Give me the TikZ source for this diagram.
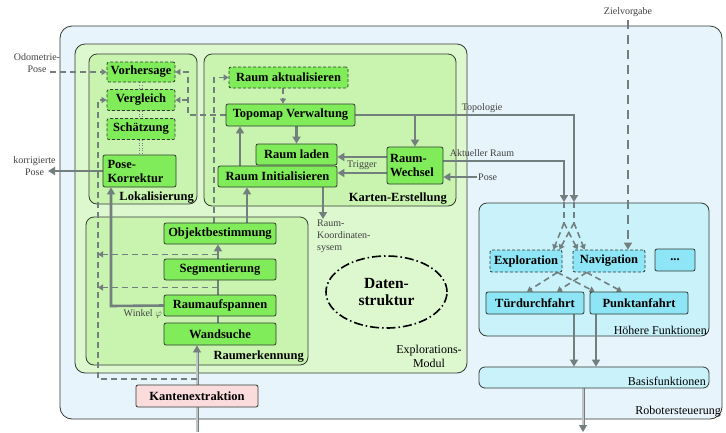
\documentclass[tikz,border=0pt]{standalone}
\usepackage{fontspec}
\setmainfont{Liberation Serif}
\usetikzlibrary{arrows.meta,shapes.geometric,calc}
\definecolor{outerfill}{HTML}{E7F4FC}
\definecolor{modfill}{HTML}{DDF7CF}
\definecolor{innerfill}{HTML}{C9F4B0}
\definecolor{ngreen}{HTML}{80EC5A}
\definecolor{hfill}{HTML}{C9F2FA}
\definecolor{ncyan}{HTML}{8DE5F5}
\definecolor{pinkfill}{HTML}{FBDCDD}
\definecolor{lgray}{HTML}{737F7F}
\definecolor{bord}{HTML}{333A33}
\pgfdeclarelayer{back}
\pgfdeclarelayer{mid}
\pgfsetlayers{back,mid,main}
\begin{document}
\begin{tikzpicture}[x=1pt,y=-1pt,
  cont/.style={draw=bord, line width=0.8pt},
  gn/.style={draw=bord, line width=0.8pt, fill=ngreen, rounded corners=2pt,
    font=\fontsize{12.5}{14}\selectfont\bfseries, inner sep=1pt},
  gnd/.style={gn, dash pattern=on 3pt off 2pt},
  cn/.style={gn, fill=ncyan},
  cnd/.style={cn, dash pattern=on 3pt off 2pt},
  lbl/.style={font=\fontsize{10}{12}\selectfont, text=black!75, inner sep=0pt},
  blbl/.style={font=\fontsize{12}{14}\selectfont, inner sep=0pt},
  bblbl/.style={font=\fontsize{12.5}{14}\selectfont\bfseries, inner sep=0pt},
  arr/.style={draw=lgray, line width=2.6pt, -{Triangle[length=7pt,width=8pt]}},
  ln/.style={draw=lgray, line width=2.6pt},
  darr/.style={draw=lgray, line width=1.6pt, dash pattern=on 6pt off 4pt, -{Triangle[length=5pt,width=6pt]}},
  dln/.style={draw=lgray, line width=1.6pt, dash pattern=on 6pt off 4pt},
  zarr/.style={draw=lgray, line width=2.4pt, dash pattern=on 9pt off 6pt, -{Triangle[length=7pt,width=8pt]}},
  dbl/.style={draw=lgray, line width=0.8pt, double=lgray!45, double distance=1.4pt},
  dblarr/.style={dbl, -{Triangle[length=7pt,width=8pt]}},
  dotl/.style={draw=lgray, line width=0.6pt, dotted}
]
\useasboundingbox (0,0) rectangle (726,432);

% containers
\begin{pgfonlayer}{back}
\draw[cont, fill=outerfill, rounded corners=12pt] (60,26) rectangle (722,419);
\draw[cont, fill=modfill, rounded corners=10pt] (75,44) rectangle (467,373);
\draw[cont, fill=innerfill, rounded corners=8pt] (89,54) rectangle (197,204);
\draw[cont, fill=innerfill, rounded corners=8pt] (204,54) rectangle (456,206);
\draw[cont, fill=innerfill, rounded corners=8pt] (86,217) rectangle (308,365);
\draw[cont, fill=hfill, rounded corners=8pt] (479,203) rectangle (709,336);
\end{pgfonlayer}

% nodes
\node[gnd, minimum width=68, minimum height=20] (vorh) at (141,72) {Vorhersage};
\node[gnd, minimum width=68, minimum height=21] (vergl) at (141,100) {Vergleich};
\node[gnd, minimum width=68, minimum height=21] (schaetz) at (141,129) {Schätzung};
\node[gn, minimum width=73, minimum height=32, align=left, text width=64] (posek) at (139.5,171) {Pose-\\Korrektur};

\node[gnd, minimum width=119, minimum height=21] (raumakt) at (288.5,77.5) {Raum aktualisieren};
\node[gn, minimum width=129, minimum height=22] (topo) at (290.5,115) {Topomap Verwaltung};
\node[gn, minimum width=81, minimum height=21] (rladen) at (296.5,154.5) {Raum laden};
\node[gn, minimum width=119, minimum height=21] (rinit) at (277.5,176.5) {Raum Initialisieren};
\node[gn, minimum width=56, minimum height=37, align=left, text width=50] (rwechsel) at (415,165.5) {Raum-\\Wechsel};

\node[gn, minimum width=112, minimum height=21] (objekt) at (220,233.5) {Objektbestimmung};
\node[gn, minimum width=112, minimum height=21] (segm) at (220,269.5) {Segmentierung};
\node[gn, minimum width=112, minimum height=21] (raumauf) at (220,305.5) {Raumaufspannen};
\node[gn, minimum width=112, minimum height=22] (wand) at (220,334) {Wandsuche};

\node[gn, fill=pinkfill, minimum width=122, minimum height=22] (kanten) at (197,396) {Kantenextraktion};

\node[ellipse, draw=black, line width=1.6pt, dash pattern=on 9pt off 3pt on 1.5pt off 3pt,
  fill=modfill, minimum width=121, minimum height=72, align=center,
  font=\fontsize{15.5}{17}\selectfont\bfseries] (daten) at (386.5,292) {Daten-\\struktur};

\node[cnd, minimum width=72, minimum height=22] (explo) at (526,261) {Exploration};
\node[cnd, minimum width=72, minimum height=22] (navi) at (609,261) {Navigation};
\node[cn, minimum width=40, minimum height=22] (dots) at (675,260) {...};
\node[cn, minimum width=98, minimum height=22] (tuer) at (535,303) {Türdurchfahrt};
\node[cn, minimum width=98, minimum height=22] (punkt) at (639,303) {Punktanfahrt};
\node[cn, fill=hfill, minimum width=230, minimum height=21, rounded corners=6pt] (basis) at (594,377.5) {};

% container labels
\node[bblbl, anchor=base east] (lLok) at (194,200) {Lokalisierung};
\node[bblbl, anchor=base east] (lKart) at (447,201) {Karten-Erstellung};
\node[bblbl, anchor=base east] (lRaum) at (304,359) {Raumerkennung};
\node[blbl, align=center] (lExpl) at (429,356) {Explorations-\\Modul};
\node[blbl, anchor=base east] (lHoeh) at (707,334) {Höhere Funktionen};
\node[blbl, anchor=base east] (lBasis) at (706,385) {Basisfunktionen};
\node[blbl, anchor=base east] (lRob) at (721,414) {Robotersteuerung};

% text labels
\node[lbl, align=center] (lOdo) at (37,63) {Odometrie-\\Pose};
\node[lbl, align=center] (lKorr) at (34.5,166.5) {korrigierte\\Pose};
\node[lbl] (lTopo) at (482,108) {Topologie};
\node[lbl] (lAkt) at (482,153) {Aktueller Raum};
\node[lbl, anchor=west] (lPose) at (478,177) {Pose};
\node[lbl] (lTrig) at (362,165) {Trigger};
\node[lbl, align=left, anchor=north west] (lKoord) at (317,220) {Raum-\\Koordinaten-\\sysem};
\node[lbl, anchor=north east] (lWink) at (162,309) {Winkel $\varphi$};
\node[lbl] (lZiel) at (628,12) {Zielvorgabe};

% coordinates
\coordinate (topend) at (574,202);
\coordinate (akend) at (564,202);
\coordinate (posein) at (477,177);
\coordinate (rkend) at (323,219);
\coordinate (wk) at (111,306);
\coordinate (kin) at (197,432);
\coordinate (korr) at (48,171);
\coordinate (odo) at (50,72);
\coordinate (kd) at (197,379);
\coordinate (ld) at (98,379);
\coordinate (rd) at (188,115);
\coordinate (ziel) at (628,20);
\coordinate (fa) at (564,223);
\coordinate (fb) at (574,223);
\coordinate (bout) at (583,432);
\coordinate (j1) at ($(segm.north)!0.3!(objekt.south)$);
\coordinate (j2) at ($(raumauf.north)!0.5!(segm.south)$);

\begin{pgfonlayer}{mid}
% Lokalisierung internals
\foreach \a/\b in {vorh/vergl, vergl/schaetz, schaetz/posek}{
  \draw[dotl] ([xshift=-1.5pt]\a.south) -- ([xshift=-1.5pt]\a.south |- \b.north);
  \draw[dotl] ([xshift=1.5pt]\a.south) -- ([xshift=1.5pt]\a.south |- \b.north);
}
% Karten-Erstellung
\draw[darr] ([xshift=-5.5pt]raumakt.south) -- ([xshift=-5.5pt]raumakt.south |- topo.north);
\draw[arr] (rladen.north |- topo.south) -- (rladen.north);
\draw[arr] ([xshift=-37.5pt]rinit.north) -- ([xshift=-37.5pt]rinit.north |- topo.south);
\draw[arr] (topo.east) -| (topend);
\draw[arr] (rwechsel.north |- topo.east) -- (rwechsel.north);
\draw[arr] ([yshift=4.5pt]rwechsel.east) -| (akend);
\draw[arr] (posein) -- (posein -| rwechsel.east);
\draw[arr] ([yshift=8.5pt]rwechsel.west) -- ([yshift=8.5pt]rwechsel.west -| rladen.east);
\draw[arr] ([yshift=-7.5pt]rwechsel.west) -- ([yshift=-7.5pt]rwechsel.west -| rinit.east);
\draw[arr] (rkend |- rinit.south) -- (rkend);
% Raumerkennung
\draw[arr] ([xshift=27pt]objekt.north) -- ([xshift=27pt]objekt.north |- rinit.south);
\draw[arr] ([xshift=-2pt]segm.north) -- ([xshift=-2pt]objekt.south);
\draw[ln] ([xshift=-2pt]raumauf.north) -- ([xshift=-2pt]segm.south);
\draw[ln] ([xshift=-2pt]wand.north) -- ([xshift=-2pt]raumauf.south);
\draw[arr] (raumauf.west) -- (wk) -- (wk |- posek.south);
\draw[dbl] (kin) -- (kanten.south);
\draw[dblarr] (kanten.north) -- (kanten.north |- wand.south);
\draw[arr] (posek.west) -- (korr);
\draw[darr] (odo) -- (vorh.west);
% dashed feedback
\draw[darr] (kd) -- (ld) -- (ld |- vergl.west) -- (vergl.west);
\draw[darr] ([xshift=-2pt]j1) -- (j1 -| ld);
\draw[darr] ([xshift=-2pt]j2) -- (j2 -| ld);
\draw[darr] (topo.west) -- (rd) |- (vorh.east);
\draw[darr] (rd |- vergl.east) -- (vergl.east);
\draw[darr] ([xshift=-6pt]objekt.north) |- (raumakt.west);
% Hoehere Funktionen
\draw[zarr] (ziel) -- (ziel |- navi.north);
\draw[dln] (akend) -- (fa);
\draw[dln] (topend) -- (fb);
\draw[darr] (fa) -- ([xshift=-9pt]explo.north east);
\draw[darr] (fa) -- ([xshift=5pt]navi.north west);
\draw[darr] (fb) -- ([xshift=-3pt]explo.north east);
\draw[darr] (fb) -- ([xshift=12pt]navi.north west);
\draw[darr] ([xshift=-5pt]explo.south east) -- ([xshift=-8pt]tuer.north);
\draw[darr] ([xshift=-5pt]explo.south east) -- ([xshift=5pt]punkt.north west);
\draw[darr] ([xshift=14pt]navi.south west) -- ([xshift=22pt]tuer.north);
\draw[darr] ([xshift=14pt]navi.south west) -- ([xshift=-17pt]punkt.north);
\draw[arr] ([xshift=39pt]tuer.south) -- ([xshift=39pt]tuer.south |- basis.north);
\draw[arr] ([xshift=-43pt]punkt.south) -- ([xshift=-43pt]punkt.south |- basis.north);
\draw[dblarr] (basis.south -| bout) -- (bout);
\end{pgfonlayer}
\end{tikzpicture}
\end{document}
